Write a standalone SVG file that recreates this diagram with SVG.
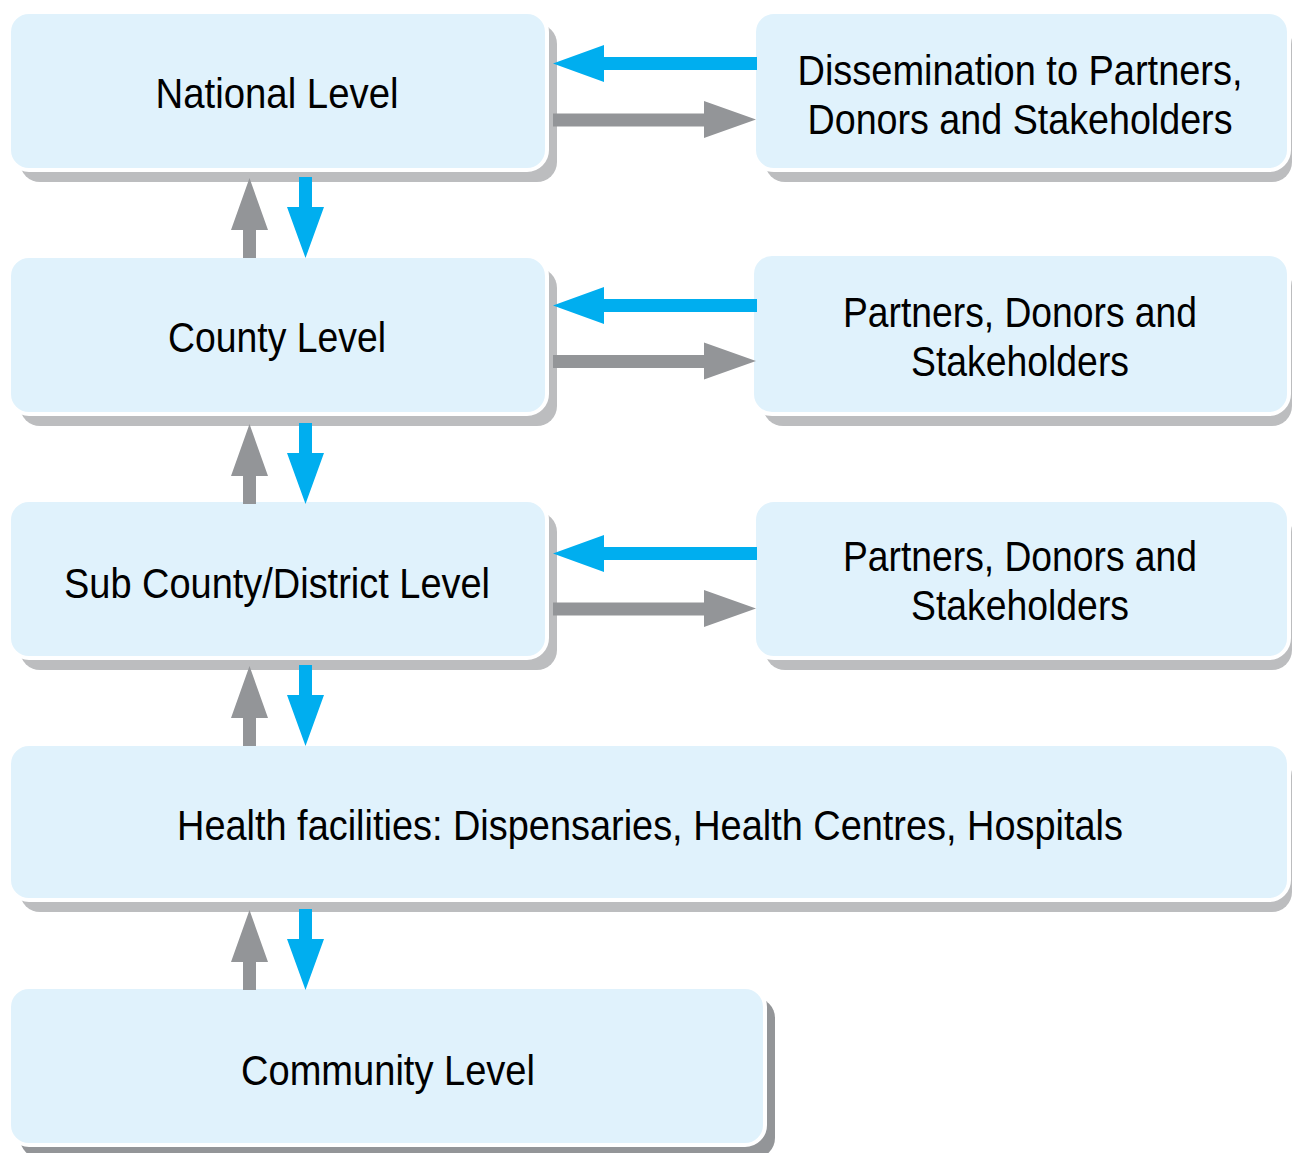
<svg xmlns="http://www.w3.org/2000/svg" width="1292" height="1153" viewBox="0 0 1292 1153">
<style>
.sh{fill:#BCBDBF}
.sh2{fill:#939598}
.bx{fill:#E0F2FC;stroke:#FFFFFF;stroke-width:4}
.t{font-family:"Liberation Sans",Arial,sans-serif;font-size:43px;fill:#000;text-anchor:middle}
.g{fill:#939598}
.b{fill:#00AEEF}
</style>
<rect width="1292" height="1153" fill="#FFFFFF"/>
<g id="national">
<rect class="sh" x="20" y="24" width="537" height="158" rx="20"/>
<rect class="bx" x="9" y="12" width="538" height="158" rx="20"/>
<text class="t" x="277" y="108" textLength="243" lengthAdjust="spacingAndGlyphs">National Level</text>
</g>
<g id="dissemination">
<rect class="sh" x="765" y="24" width="527" height="158" rx="20"/>
<rect class="bx" x="754" y="12" width="535" height="158" rx="20"/>
<text class="t" x="1020" y="85" textLength="445" lengthAdjust="spacingAndGlyphs">Dissemination to Partners,</text>
<text class="t" x="1020" y="134" textLength="425" lengthAdjust="spacingAndGlyphs">Donors and Stakeholders</text>
</g>
<g id="county">
<rect class="sh" x="20" y="268" width="537" height="158" rx="20"/>
<rect class="bx" x="9" y="256" width="538" height="158" rx="20"/>
<text class="t" x="277" y="352" textLength="218" lengthAdjust="spacingAndGlyphs">County Level</text>
</g>
<g id="partners1">
<rect class="sh" x="763" y="266" width="529" height="160" rx="20"/>
<rect class="bx" x="752" y="254" width="537" height="160" rx="20"/>
<text class="t" x="1020" y="327" textLength="354" lengthAdjust="spacingAndGlyphs">Partners, Donors and</text>
<text class="t" x="1020" y="376" textLength="218" lengthAdjust="spacingAndGlyphs">Stakeholders</text>
</g>
<g id="subcounty">
<rect class="sh" x="20" y="512" width="537" height="158" rx="20"/>
<rect class="bx" x="9" y="500" width="538" height="158" rx="20"/>
<text class="t" x="277" y="598" textLength="426" lengthAdjust="spacingAndGlyphs">Sub County/District Level</text>
</g>
<g id="partners2">
<rect class="sh" x="765" y="512" width="527" height="158" rx="20"/>
<rect class="bx" x="754" y="500" width="535" height="158" rx="20"/>
<text class="t" x="1020" y="571" textLength="354" lengthAdjust="spacingAndGlyphs">Partners, Donors and</text>
<text class="t" x="1020" y="620" textLength="218" lengthAdjust="spacingAndGlyphs">Stakeholders</text>
</g>
<g id="health">
<rect class="sh" x="20" y="756" width="1272" height="156" rx="20"/>
<rect class="bx" x="9" y="744" width="1280" height="156" rx="20"/>
<text class="t" x="650" y="840" textLength="946" lengthAdjust="spacingAndGlyphs">Health facilities: Dispensaries, Health Centres, Hospitals</text>
</g>
<g id="community">
<rect class="sh2" x="20" y="998" width="755" height="160" rx="20"/>
<rect class="bx" x="9" y="987" width="756" height="158" rx="20"/>
<text class="t" x="388" y="1085" textLength="294" lengthAdjust="spacingAndGlyphs">Community Level</text>
</g>
<g id="connectors">
<polygon class="b" points="757,57 604,57 604,45 553,63.5 604,82 604,70 757,70"/>
<polygon class="g" points="553,113.5 704,113.5 704,101 756,119.5 704,138 704,126.5 553,126.5"/>
<polygon class="b" points="757,299 604,299 604,287 553,305.5 604,324 604,312 757,312"/>
<polygon class="g" points="553,355 704,355 704,342.5 756,361 704,379.5 704,368 553,368"/>
<polygon class="b" points="757,547 604,547 604,535 553,553.5 604,572 604,560 757,560"/>
<polygon class="g" points="553,602.5 704,602.5 704,590 756,608.5 704,627 704,615.5 553,615.5"/>
<polygon class="g" points="243,258 243,230 231,230 249.5,178 268,230 256,230 256,258"/>
<polygon class="b" points="299,177 299,207 287,207 305.5,258 324,207 312,207 312,177"/>
<polygon class="g" points="243,504 243,476 231,476 249.5,424 268,476 256,476 256,504"/>
<polygon class="b" points="299,423 299,453 287,453 305.5,504 324,453 312,453 312,423"/>
<polygon class="g" points="243,746 243,718 231,718 249.5,666 268,718 256,718 256,746"/>
<polygon class="b" points="299,665 299,695 287,695 305.5,746 324,695 312,695 312,665"/>
<polygon class="g" points="243,990 243,962 231,962 249.5,910 268,962 256,962 256,990"/>
<polygon class="b" points="299,909 299,939 287,939 305.5,990 324,939 312,939 312,909"/>
</g>
</svg>
